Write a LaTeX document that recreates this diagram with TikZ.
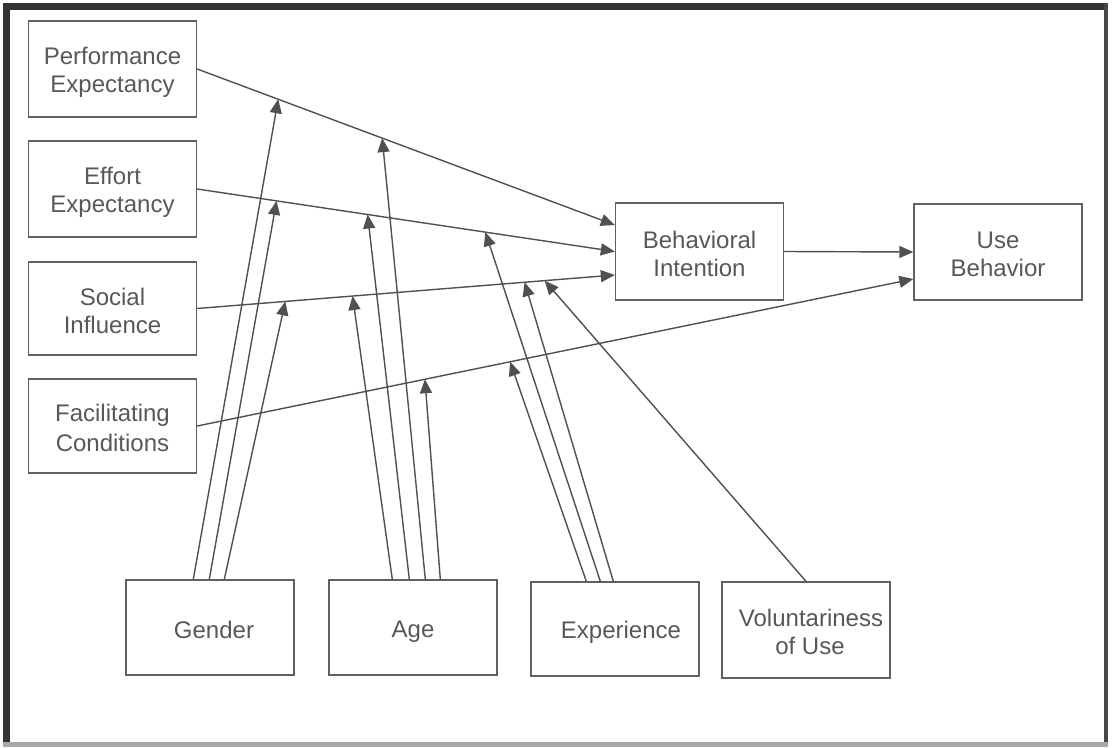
\documentclass[tikz,border=0pt]{standalone}
\usepackage{fontspec}
\setmainfont{Liberation Sans}
\usetikzlibrary{arrows.meta}
\definecolor{linegray}{HTML}{505050}
\definecolor{boxgray}{HTML}{606060}
\definecolor{txtgray}{HTML}{585858}
\definecolor{framedark}{HTML}{333333}
\definecolor{framelight}{HTML}{A8A8A8}
\newcommand\mystrut{\rule[-2.4pt]{0pt}{26.4pt}}
\tikzset{
  box/.style={draw=boxgray, line width=1.4pt, fill=white, text=txtgray,
    align=center, inner sep=0pt, minimum width=168pt,
    font=\fontsize{24}{28}\selectfont},
  arr/.style={draw=linegray, line width=1.4pt,
    -{Triangle[length=14pt,width=12pt]}, color=linegray},
}
\begin{document}
\begin{tikzpicture}[x=1pt,y=-1pt]
\useasboundingbox (0,0) rectangle (1115,747);
% frame
\fill[white] (0,0) rectangle (1115,747);
\fill[framedark] (3,3) rectangle (1108,10);
\fill[framedark] (3,3) rectangle (10,747);
\fill[framedark!90] (1104,3) rectangle (1108,745);
\fill[framelight] (3,742) rectangle (1108,747);

% nodes
\node[box, minimum height=96pt] (pe) at (112.5,69) {\mystrut Performance\\\mystrut Expectancy};
\node[box, minimum height=96pt] (ee) at (112.5,189) {\mystrut Effort\\\mystrut Expectancy};
\node[box, minimum height=93pt] (si) at (112.5,308.5) {\mystrut Social\\\mystrut Influence};
\node[box, minimum height=94pt] (fc) at (112.5,426) {\mystrut Facilitating\\\mystrut Conditions};
\node[box, minimum height=97pt] (bi) at (699.5,251.5) {\mystrut Behavioral\\\mystrut Intention};
\node[box, minimum height=96pt] (ub) at (998,252) {\mystrut Use\\\mystrut Behavior};
\node[box, minimum height=95pt] (gender) at (210,627.5) {\hspace*{8pt}\mystrut Gender};
\node[box, minimum height=95pt] (age) at (413,627.5) {\mystrut Age};
\node[box, minimum height=94pt] (exp) at (615,629) {\hspace*{12pt}\mystrut Experience};
\node[box, minimum height=96pt] (vol) at (806,630) {\hspace*{10pt}\mystrut Voluntariness\\\hspace*{8pt}\mystrut of Use};

% main paths with moderator target points
\draw[arr] (pe.east) -- ([yshift=26.5]bi.west)
  coordinate[pos=0.194] (peG) coordinate[pos=0.443] (peA);
\draw[arr] (ee.east) -- (bi.west)
  coordinate[pos=0.19] (eeG) coordinate[pos=0.408] (eeA) coordinate[pos=0.69] (eeE);
\draw[arr] (si.east) -- ([yshift=-23.5]bi.west)
  coordinate[pos=0.211] (siG) coordinate[pos=0.372] (siA)
  coordinate[pos=0.784] (siE) coordinate[pos=0.832] (siV);
\draw[arr] (fc.east) -- ([yshift=-27]ub.west)
  coordinate[pos=0.318] (fcA) coordinate[pos=0.437] (fcE);
\draw[arr] (bi.east) -- (ub.west);

% moderators
\draw[arr] ([xshift=68]gender.north west) -- (peG);
\draw[arr] ([xshift=84]gender.north west) -- (eeG);
\draw[arr] ([xshift=99]gender.north west) -- (siG);

\draw[arr] ([xshift=64]age.north west) -- (siA);
\draw[arr] ([xshift=81]age.north west) -- (eeA);
\draw[arr] ([xshift=97]age.north west) -- (peA);
\draw[arr] ([xshift=112]age.north west) -- (fcA);

\draw[arr] ([xshift=56]exp.north west) -- (fcE);
\draw[arr] ([xshift=70]exp.north west) -- (eeE);
\draw[arr] ([xshift=83]exp.north west) -- (siE);

\draw[arr] (vol.north) -- (siV);
\end{tikzpicture}
\end{document}
